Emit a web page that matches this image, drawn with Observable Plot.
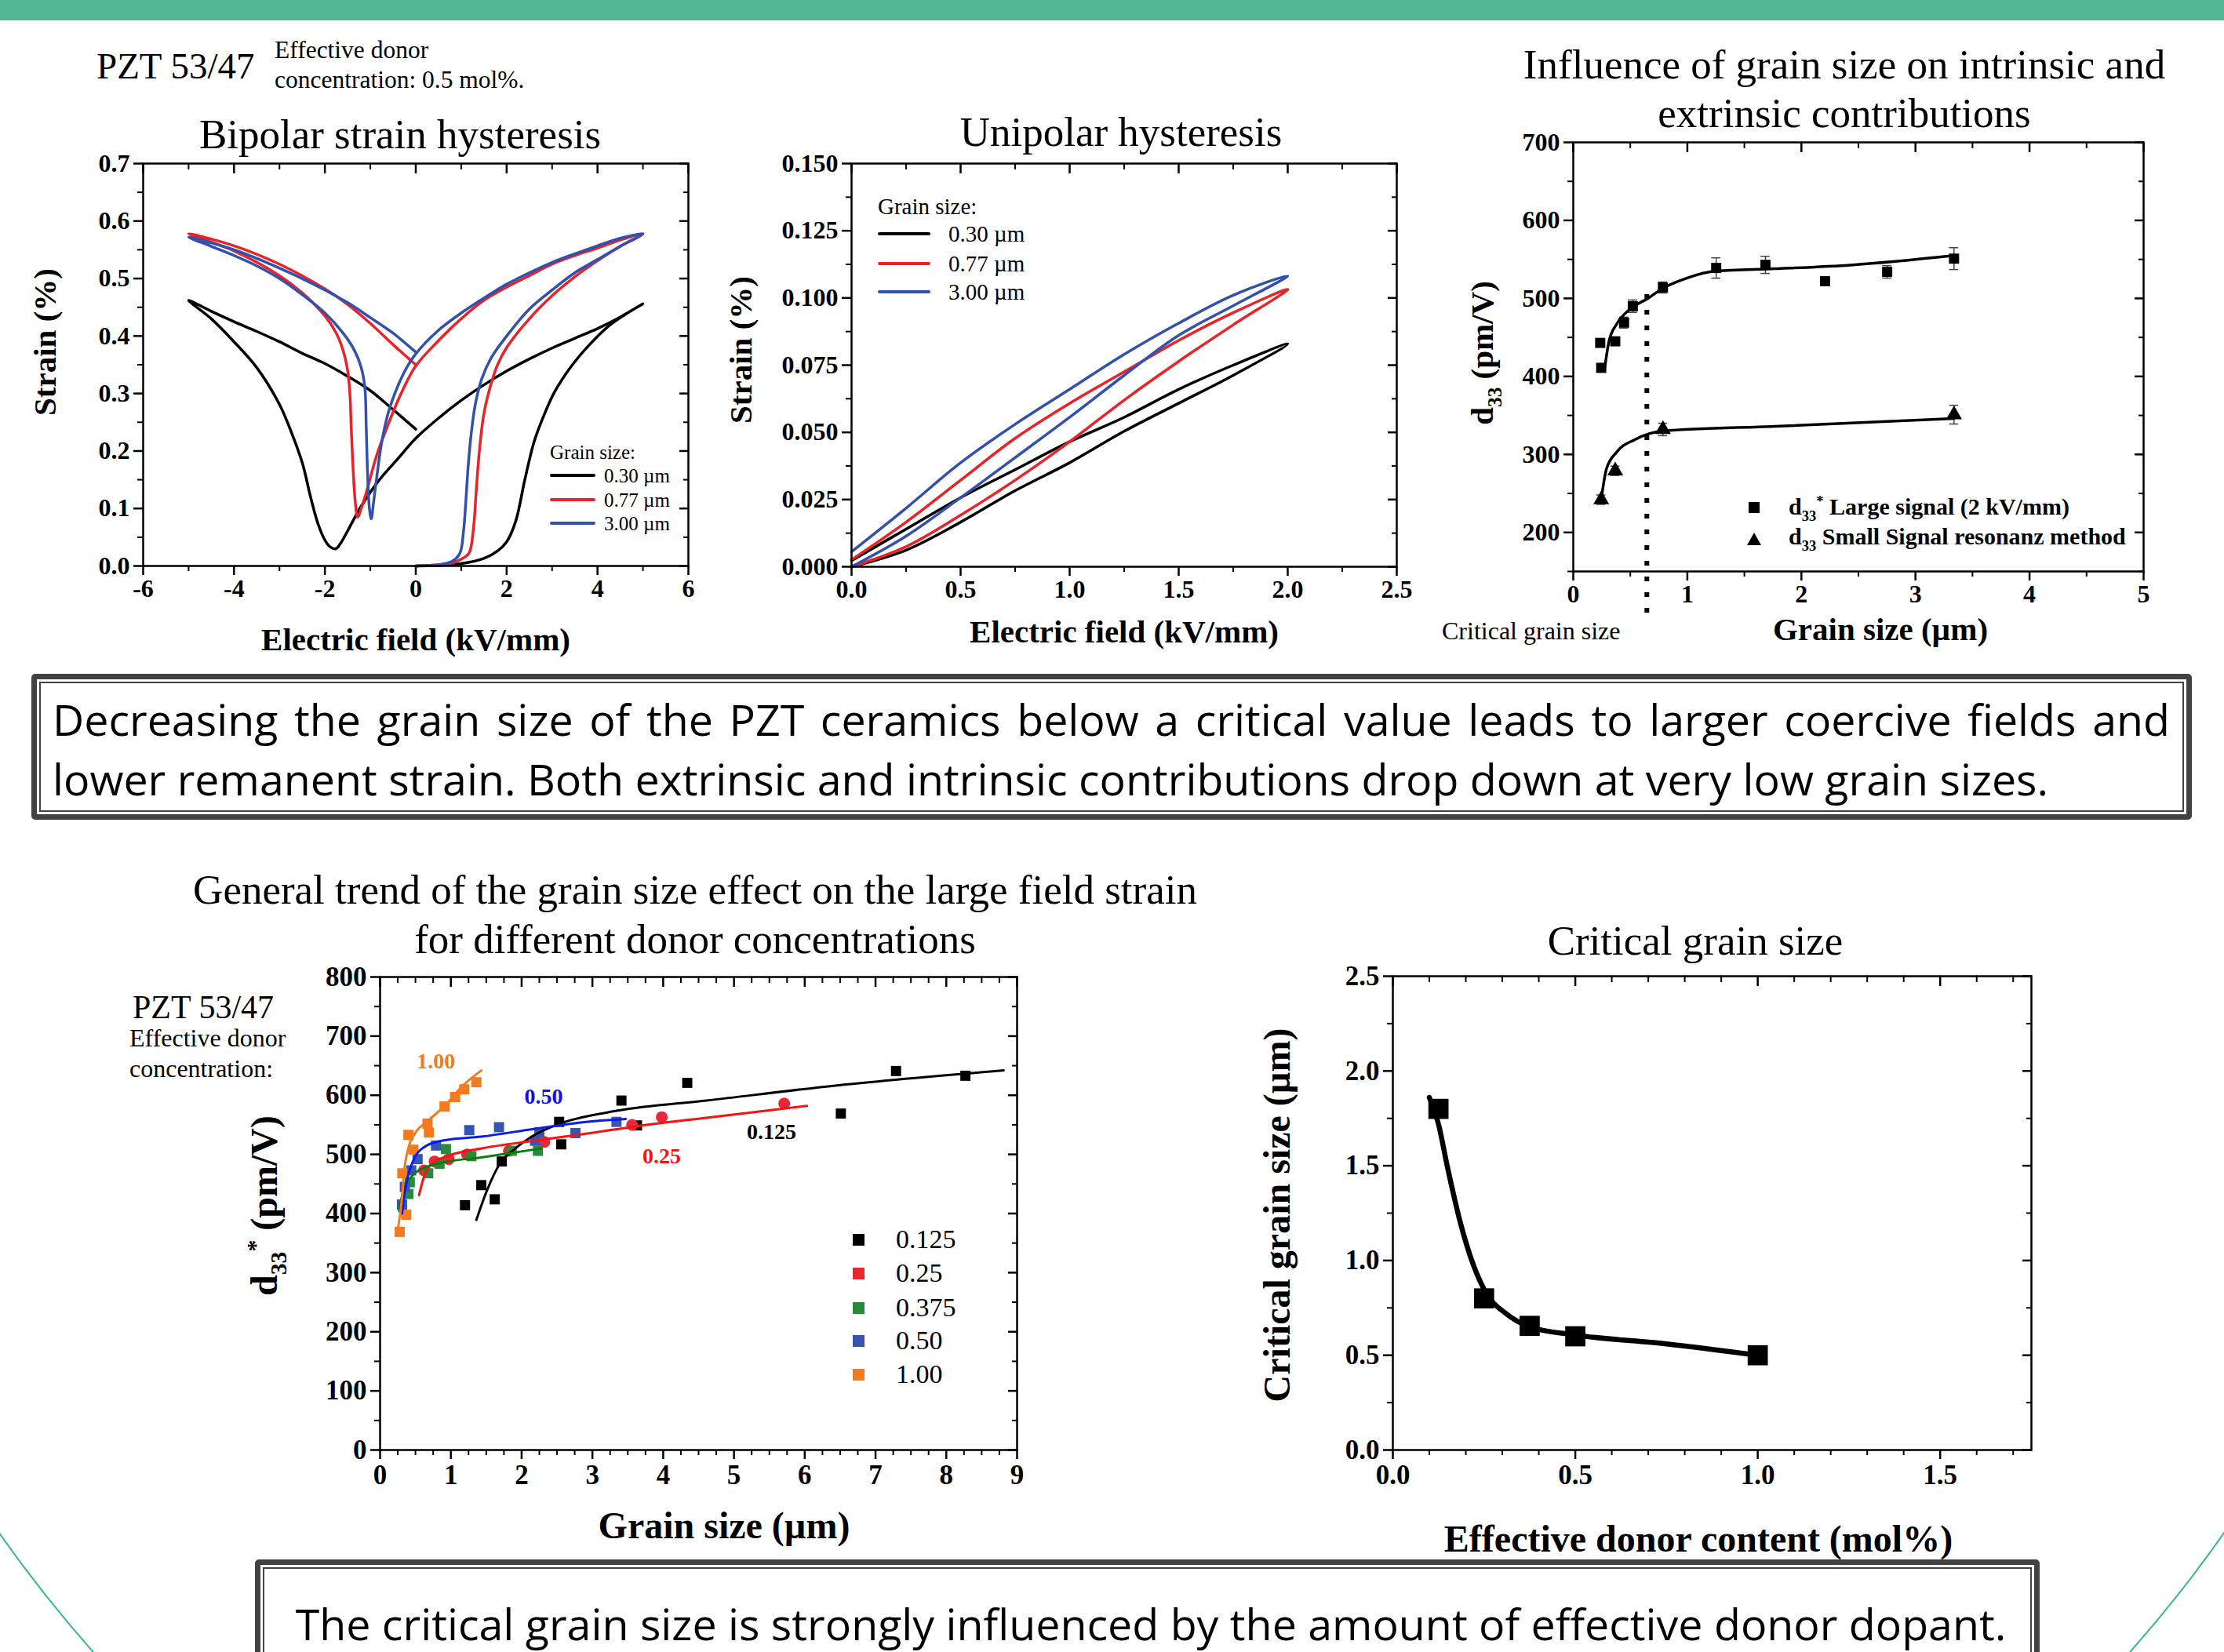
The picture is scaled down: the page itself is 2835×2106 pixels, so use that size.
<!DOCTYPE html>
<html><head><meta charset="utf-8">
<script src="https://cdn.jsdelivr.net/npm/d3@7"></script>
<script src="https://cdn.jsdelivr.net/npm/@observablehq/plot@0.6"></script>
<style>
html,body{margin:0;padding:0;background:#fff;}
#page{position:relative;width:2835px;height:2106px;overflow:hidden;background:#fff;font-family:"Liberation Serif",serif;color:#000;}
.t{position:absolute;white-space:nowrap;line-height:1;}
.sub{font-size:0.62em;position:relative;top:0.42em;}
.sup{font-size:0.62em;position:relative;top:-0.6em;}
.box{position:absolute;box-sizing:border-box;border:7px solid #424242;border-radius:5px;background:#fff;}
.box .in{position:absolute;left:3px;top:3px;right:3px;bottom:3px;border:2.5px solid #424242;}
.bt{position:absolute;white-space:nowrap;line-height:1;font-family:"Open Sans",sans-serif;font-size:55.5px;color:#000;}
</style></head><body><div id="page"></div>
<script>
// ---------------- DATA ----------------
// Bipolar strain hysteresis (E in kV/mm, strain in %)
const bipE030 = [0,0.5,1.0,1.5,1.8,2.0,2.2,2.4,2.6,2.8,3.05,3.4,3.8,4.24,4.6,5.0, 4.5,4.0,3.5,3.0,2.5,2.0,1.5,1.0,0.5,0,-0.4,-0.8,-1.2,-1.5,-1.65,-1.76,-1.88,-2.0,-2.15,-2.3,-2.5,-2.75,-3.0,-3.5,-4.0,-4.5,-5.0, -4.5,-4.0,-3.5,-3.0,-2.5,-2.0,-1.5,-1.0,-0.5,0];
const bipS030 = [0,0.001,0.004,0.013,0.026,0.042,0.078,0.15,0.215,0.258,0.302,0.345,0.383,0.417,0.437,0.456, 0.433,0.413,0.396,0.379,0.36,0.339,0.315,0.288,0.257,0.222,0.186,0.15,0.104,0.061,0.04,0.03,0.033,0.045,0.073,0.115,0.18,0.235,0.281,0.345,0.39,0.43,0.462, 0.443,0.425,0.408,0.39,0.37,0.352,0.33,0.305,0.272,0.238];
const bipE077 = [0,0.5,0.8,1.0,1.17,1.27,1.33,1.4,1.5,1.65,1.8,2.0,2.5,3.0,3.5,4.0,4.5,5.0, 4.5,4.0,3.5,3.0,2.5,2.0,1.5,1.0,0.5,0,-0.3,-0.6,-0.87,-1.07,-1.2,-1.28, -1.33,-1.38,-1.42,-1.45,-1.5,-1.6,-1.75,-2.0,-2.5,-3.0,-4.0,-5.0, -4.0,-3.0,-2.0,-1.5,-1.0,-0.5,0];
const bipS077 = [0,0.002,0.005,0.012,0.022,0.066,0.13,0.2,0.265,0.315,0.35,0.38,0.43,0.47,0.503,0.531,0.556,0.578, 0.567,0.553,0.54,0.525,0.505,0.485,0.462,0.43,0.392,0.348,0.304,0.248,0.19,0.133,0.1,0.085, 0.11,0.17,0.24,0.3,0.34,0.375,0.405,0.435,0.475,0.505,0.548,0.578, 0.557,0.525,0.482,0.455,0.422,0.385,0.35];
const bipE300 = [0,0.5,0.8,0.97,1.05,1.1,1.15,1.22,1.31,1.45,1.66,2.0,2.5,3.0,3.5,4.0,4.5,5.0, 4.5,4.0,3.5,3.0,2.5,2.0,1.5,1.0,0.5,0,-0.2,-0.4,-0.6,-0.75,-0.85,-0.93,-0.98, -1.02,-1.06,-1.09,-1.12,-1.2,-1.35,-1.6,-2.0,-2.5,-3.0,-3.5,-4.0,-4.5,-5.0, -4.5,-4.0,-3.5,-3.0,-2.5,-2.0,-1.5,-1.0,-0.5,0];
const bipS300 = [0,0.002,0.008,0.022,0.06,0.11,0.17,0.23,0.281,0.325,0.362,0.4,0.447,0.48,0.51,0.533,0.556,0.578, 0.57,0.557,0.543,0.528,0.51,0.49,0.466,0.44,0.41,0.369,0.345,0.312,0.268,0.215,0.16,0.11,0.082, 0.1,0.16,0.24,0.31,0.345,0.375,0.405,0.44,0.472,0.5,0.522,0.54,0.556,0.572, 0.562,0.55,0.535,0.518,0.5,0.48,0.458,0.432,0.405,0.372];

// Unipolar hysteresis
const uniE = [0,0.25,0.5,0.75,1.0,1.25,1.5,1.75,2.0,1.75,1.5,1.25,1.0,0.75,0.5,0.25,0];
const uniS030 = [0,0.0062,0.0166,0.0283,0.0387,0.0504,0.0608,0.0712,0.0829,0.075,0.066,0.0556,0.0465,0.0361,0.0257,0.014,0.0023];
const uniS077 = [0,0.0075,0.0192,0.0322,0.0465,0.062,0.0764,0.09,0.1032,0.0945,0.0842,0.0725,0.0608,0.0478,0.0322,0.0166,0.0026];
const uniS300 = [0,0.0114,0.0257,0.0406,0.0556,0.0712,0.0861,0.0971,0.1082,0.101,0.0906,0.079,0.066,0.053,0.0387,0.0218,0.0056];

// Influence of grain size on intrinsic / extrinsic contributions
const p3SqX = [0.236,0.245,0.368,0.445,0.522,0.786,1.253,1.685,2.207,2.752,3.338];
const p3SqY = [443,411,445,469,490,514,539,543,522,534,551];
const p3SqErr = [0,4,5,7,8,7,13,11,0,8,14];
const p3TriX = [0.245,0.368,0.786,3.338];
const p3TriY = [242,279,332,351];
const p3TriErr = [6,6,8,12];
const p3FitLX = [0.277,0.313,0.38,0.495,0.654,0.786,0.995,1.253,1.767,2.45,3.338];
const p3FitLY = [412,445,467,486,500,513,526,535,538,543,555];
const p3FitSX = [0.245,0.29,0.38,0.54,0.786,1.767,3.338];
const p3FitSY = [242,281,303,319,330,336,346];
const criticalSize = 0.645, criticalTop = 505, criticalBottom = 86;

// General trend for different donor concentrations
const g125X = [1.20,1.43,1.62,1.72,2.53,2.56,3.41,3.63,4.34,6.51,7.29,8.27];
const g125Y = [414,448,424,488,555,517,591,549,621,569,641,633];
const g125FX = [1.36,1.51,1.69,1.91,2.17,2.54,3.36,4.61,6.48,8.81];
const g125FY = [389,439,484,510,532,552,574,591,617,642];
const g250X = [0.62,0.77,0.97,1.23,1.82,2.32,3.56,3.98,5.71];
const g250Y = [473,488,492,500,506,521,550,563,586];
const g250FX = [0.55,0.62,0.73,0.95,1.43,2.17,2.91,3.65,4.61,6.03];
const g250FY = [431,462,484,497,510,523,535,548,562,582];
const g375X = [0.31,0.40,0.42,0.68,0.84,0.93,1.29,1.86,2.23];
const g375Y = [415,433,453,468,484,509,497,506,506];
const g375FX = [0.27,0.32,0.44,0.62,0.88,1.43,2.28];
const g375FY = [404,435,462,477,486,495,510];
const g500X = [0.31,0.35,0.44,0.53,0.79,1.26,1.68,2.19,2.25,2.76,3.34];
const g500Y = [415,445,473,492,515,541,546,523,537,536,555];
const g500FX = [0.31,0.36,0.47,0.66,0.92,1.43,2.17,2.91,3.47];
const g500FY = [400,444,490,515,524,530,543,555,560];
const g100X = [0.277,0.37,0.314,0.40,0.47,0.67,0.69,0.91,1.06,1.19,1.36];
const g100Y = [369,398,468,533,508,552,537,581,597,610,622];
const g100FX = [0.25,0.31,0.34,0.40,0.49,0.66,0.92,1.175,1.43];
const g100FY = [373,426,471,511,535,555,583,617,642];
const gLabelText = ["1.00","0.50","0.25","0.125"];
const gLabelX = [0.79,2.31,3.98,5.53];
const gLabelY = [657,598,497,538];
const gLabelColor = ["#f47a20","#1010ee","#ff1010","#000000"];
const gLegend = ["0.125","0.25","0.375","0.50","1.00"];
const gLegendColor = ["#000000","#e8262e","#2a8a3c","#3556b0","#f47a20"];

// Critical grain size vs donor content
const donor = [0.125,0.25,0.375,0.5,1.0];
const critGrain = [1.80,0.80,0.655,0.60,0.50];
const critFitX = [0.1,0.125,0.15,0.185,0.22,0.255,0.31,0.375,0.5,0.75,1.0];
const critFitY = [1.86,1.72,1.49,1.20,0.98,0.83,0.72,0.65,0.607,0.56,0.50];

// ---------------- HELPERS ----------------
const page = document.getElementById("page");
const zipXY = (xs, ys) => xs.map((x, i) => ({x, y: ys[i]}));
const rng = (a, b, s) => d3.range(Math.round((b - a) / s) + 1).map(i => +(a + i * s).toFixed(6));
const blank = () => "";

function div(cls, css, html) {
  const d = document.createElement("div");
  if (cls) d.className = cls;
  Object.assign(d.style, css);
  if (html != null) d.innerHTML = html;
  page.appendChild(d);
  return d;
}
function txt(html, x, y, size, opts = {}) {
  const d = div("t", {left: x + "px", top: y + "px", fontSize: size + "px"}, html);
  if (opts.bold) d.style.fontWeight = "bold";
  if (opts.color) d.style.color = opts.color;
  if (opts.rot) d.style.transform = "translate(-50%,-50%) rotate(-90deg)";
  else if (opts.center) d.style.transform = "translate(-50%,-50%)";
  else d.style.transform = "translate(0,-50%)";
  return d;
}
function put(svg, left, top) {
  const w = div(null, {position: "absolute", left: left + "px", top: top + "px"});
  w.appendChild(svg);
}
function frameAxes(o) {
  const f = o.font ?? 32, pad = o.pad ?? 5;
  return [
    Plot.axisX(o.xMajor, {anchor: "bottom", tickSize: 12, tickPadding: pad, strokeWidth: 2.5, tickFormat: o.xFmt, fontSize: f, fontWeight: "bold", label: null}),
    Plot.axisX(o.xMinor, {anchor: "bottom", tickSize: 7, strokeWidth: 2, tickFormat: blank, label: null}),
    Plot.axisX(o.xMajor, {anchor: "top", tickSize: 12, dy: 12, strokeWidth: 2.5, tickFormat: blank, label: null}),
    Plot.axisX(o.xMinor, {anchor: "top", tickSize: 7, dy: 7, strokeWidth: 2, tickFormat: blank, label: null}),
    Plot.axisY(o.yMajor, {anchor: "left", tickSize: 12, tickPadding: 5, strokeWidth: 2.5, tickFormat: o.yFmt, fontSize: f, fontWeight: "bold", label: null}),
    Plot.axisY(o.yMinor, {anchor: "left", tickSize: 7, strokeWidth: 2, tickFormat: blank, label: null}),
    Plot.axisY(o.yMajor, {anchor: "right", tickSize: 12, dx: -12, strokeWidth: 2.5, tickFormat: blank, label: null}),
    Plot.axisY(o.yMinor, {anchor: "right", tickSize: 7, dx: -7, strokeWidth: 2, tickFormat: blank, label: null}),
    Plot.frame({stroke: "#000", strokeWidth: 2.5})
  ];
}
const plotStyle = {fontFamily: "Liberation Serif", background: "transparent", overflow: "visible", color: "#000"};
const TITLE = 53;

// ---------------- DECORATION ----------------
div(null, {position: "absolute", left: "-317px", top: "-776px", width: "3468px", height: "3468px", borderRadius: "50%", border: "2.5px solid #3db48f", boxSizing: "border-box"});
div(null, {position: "absolute", left: "0px", top: "0px", width: "2835px", height: "26px", background: "#52b794"});

// ---------------- PLOT 1: Bipolar ----------------
{
  const loops = [[bipE030, bipS030, "#000000"], [bipE077, bipS077, "#ec2229"], [bipE300, bipS300, "#3151ad"]];
  const svg = Plot.plot({
    width: 900, height: 640, marginLeft: 182, marginRight: 23, marginTop: 28, marginBottom: 99,
    x: {domain: [-6, 6]}, y: {domain: [0, 0.7]}, style: plotStyle,
    marks: [
      ...loops.map(([e, s, c]) => Plot.line(zipXY(e, s), {x: "x", y: "y", stroke: c, strokeWidth: 3.5, curve: "catmull-rom"})),
      ...frameAxes({xMajor: rng(-6, 6, 2), xMinor: rng(-5, 5, 2), yMajor: rng(0, 0.7, 0.1), yMinor: rng(0.05, 0.65, 0.1), xFmt: d => String(d), yFmt: d3.format(".1f")})
    ]
  });
  put(svg, 0, 180);
  txt("PZT 53/47", 123, 84, 47);
  txt("Effective donor", 350, 64, 31.5);
  txt("concentration: 0.5 mol%.", 350, 102, 31.5);
  txt("Bipolar strain hysteresis", 510, 171, TITLE, {center: true});
  txt("Strain (%)", 57, 436, 41, {bold: true, rot: true});
  txt("Electric field (kV/mm)", 530, 815, 41, {bold: true, center: true});
  txt("Grain size:", 701, 576, 25);
  const lg = [["0.30 µm", "#000000", 606], ["0.77 µm", "#ec2229", 637], ["3.00 µm", "#3151ad", 667]];
  lg.forEach(([t, c, y]) => {
    div(null, {position: "absolute", left: "701px", top: (y - 2) + "px", width: "58px", height: "4px", background: c, borderRadius: "2px"});
    txt(t, 770, y, 25);
  });
}

// ---------------- PLOT 2: Unipolar ----------------
{
  const loops = [[uniS030, "#000000"], [uniS077, "#ec2229"], [uniS300, "#3151ad"]];
  const svg = Plot.plot({
    width: 950, height: 640, marginLeft: 185, marginRight: 70, marginTop: 28, marginBottom: 98,
    x: {domain: [0, 2.5]}, y: {domain: [0, 0.15]}, style: plotStyle,
    marks: [
      ...loops.map(([s, c]) => Plot.line(zipXY(uniE, s), {x: "x", y: "y", stroke: c, strokeWidth: 3.5, curve: "catmull-rom"})),
      ...frameAxes({xMajor: rng(0, 2.5, 0.5), xMinor: rng(0.25, 2.25, 0.5), yMajor: rng(0, 0.15, 0.025), yMinor: rng(0.0125, 0.1375, 0.025), xFmt: d3.format(".1f"), yFmt: d3.format(".3f")})
    ]
  });
  put(svg, 900, 180);
  txt("Unipolar hysteresis", 1429, 168, TITLE, {center: true});
  txt("Strain (%)", 944, 446, 41, {bold: true, rot: true});
  txt("Electric field (kV/mm)", 1433, 805, 41, {bold: true, center: true});
  txt("Grain size:", 1119, 263, 29);
  const lg = [["0.30 µm", "#000000", 298], ["0.77 µm", "#ec2229", 336], ["3.00 µm", "#3151ad", 372]];
  lg.forEach(([t, c, y]) => {
    div(null, {position: "absolute", left: "1119px", top: (y - 2) + "px", width: "67px", height: "4px", background: c, borderRadius: "2px"});
    txt(t, 1209, y, 29);
  });
}

// ---------------- PLOT 3: intrinsic / extrinsic ----------------
{
  const sq = p3SqX.map((x, i) => ({x, y: p3SqY[i], e: p3SqErr[i]}));
  const tri = p3TriX.map((x, i) => ({x, y: p3TriY[i], e: p3TriErr[i]}));
  const err = [...sq, ...tri].filter(d => d.e > 0);
  const svg = Plot.plot({
    width: 1035, height: 680, marginLeft: 205, marginRight: 103, marginTop: 31, marginBottom: 102,
    x: {domain: [0, 5]}, y: {domain: [150, 700]}, style: plotStyle,
    marks: [
      Plot.ruleX([criticalSize], {x: d => d, y1: criticalTop, y2: criticalBottom, stroke: "#000", strokeWidth: 6, strokeDasharray: "6,14"}),
      Plot.ruleX(err, {x: "x", y1: d => d.y - d.e, y2: d => d.y + d.e, stroke: "#444", strokeWidth: 1.5}),
      Plot.ruleY(err, {y: d => d.y + d.e, x1: d => d.x - 0.04, x2: d => d.x + 0.04, stroke: "#444", strokeWidth: 1.5}),
      Plot.ruleY(err, {y: d => d.y - d.e, x1: d => d.x - 0.04, x2: d => d.x + 0.04, stroke: "#444", strokeWidth: 1.5}),
      Plot.line(zipXY(p3FitLX, p3FitLY), {x: "x", y: "y", stroke: "#000", strokeWidth: 3.5, curve: "monotone-x"}),
      Plot.line(zipXY(p3FitSX, p3FitSY), {x: "x", y: "y", stroke: "#000", strokeWidth: 3.5, curve: "monotone-x"}),
      Plot.dot(sq, {x: "x", y: "y", symbol: "square", r: 7.3, fill: "#000", stroke: "none"}),
      Plot.dot(tri, {x: "x", y: "y", symbol: "triangle", r: 7.5, fill: "#000", stroke: "none"}),
      ...frameAxes({xMajor: rng(0, 5, 1), xMinor: rng(0.5, 4.5, 1), yMajor: rng(200, 700, 100), yMinor: rng(150, 650, 100), xFmt: d => String(d), yFmt: d => String(d)})
    ]
  });
  put(svg, 1800, 150);
  txt("Influence of grain size on intrinsic and", 2351, 82, TITLE, {center: true});
  txt("extrinsic contributions", 2351, 144, TITLE, {center: true});
  txt('d<span class="sub">33</span> (pm/V)', 1889, 450, 41, {bold: true, rot: true});
  txt("Grain size (µm)", 2397, 802, 41, {bold: true, center: true});
  txt("Critical grain size", 1838, 804, 32);
  div(null, {position: "absolute", left: "2229px", top: "640px", width: "14px", height: "14px", background: "#000"});
  div(null, {position: "absolute", left: "2227px", top: "679px", width: "0", height: "0", borderLeft: "9px solid transparent", borderRight: "9px solid transparent", borderBottom: "16px solid #000"});
  txt('d<span class="sub">33</span><span class="sup">*</span> Large signal (2 kV/mm)', 2280, 646, 30, {bold: true});
  txt('d<span class="sub">33</span> Small Signal resonanz method', 2280, 684, 30, {bold: true});
}

// ---------------- PLOT 4: General trend ----------------
{
  const sets = [
    [g125X, g125Y, g125FX, g125FY, "#000000", "#000000", "square"],
    [g250X, g250Y, g250FX, g250FY, "#e8283a", "#ff1010", "circle"],
    [g375X, g375Y, g375FX, g375FY, "#2a8a3c", "#0c7c10", "square"],
    [g500X, g500Y, g500FX, g500FY, "#3556b0", "#0a1af0", "square"],
    [g100X, g100Y, g100FX, g100FY, "#f47a20", "#f47a20", "square"]
  ];
  const labels = gLabelText.map((t, i) => ({t, x: gLabelX[i], y: gLabelY[i], c: gLabelColor[i]}));
  const svg = Plot.plot({
    width: 1200, height: 720, marginLeft: 334, marginRight: 54, marginTop: 45, marginBottom: 72,
    x: {domain: [0, 9]}, y: {domain: [0, 800]}, style: plotStyle,
    marks: [
      ...sets.map(([xs, ys, , , mc, , sym]) => Plot.dot(zipXY(xs, ys), {x: "x", y: "y", symbol: sym, r: sym === "circle" ? 7.5 : 7.3, fill: mc, stroke: "none"})),
      ...sets.map(([, , fx, fy, , lc]) => Plot.line(zipXY(fx, fy), {x: "x", y: "y", stroke: lc, strokeWidth: 3, curve: "monotone-x"})),
      Plot.text(labels, {x: "x", y: "y", text: "t", fill: "c", fontSize: 28, fontWeight: "bold"}),
      ...frameAxes({font: 35, pad: 7, xMajor: rng(0, 9, 1), xMinor: rng(0.25, 8.75, 0.25).filter(v => v % 1 !== 0), yMajor: rng(0, 800, 100), yMinor: rng(50, 750, 100), xFmt: d => String(d), yFmt: d => String(d)})
    ]
  });
  put(svg, 150, 1200);
  txt("General trend of the grain size effect on the large field strain", 886, 1134, TITLE, {center: true});
  txt("for different donor concentrations", 886, 1197, TITLE, {center: true});
  txt("PZT 53/47", 169, 1284, 42);
  txt("Effective donor", 165, 1323, 32);
  txt("concentration:", 165, 1362, 32);
  txt('d<span class="sub">33</span><span class="sup">*</span> (pm/V)', 337, 1537, 48, {bold: true, rot: true});
  txt("Grain size (µm)", 923, 1945, 48, {bold: true, center: true});
  const ly = [1580, 1623, 1667, 1709, 1752];
  gLegend.forEach((t, i) => {
    div(null, {position: "absolute", left: "1087px", top: (ly[i] - 7) + "px", width: "15px", height: "15px", background: gLegendColor[i]});
    txt(t, 1142, ly[i], 34);
  });
}

// ---------------- PLOT 5: Critical grain size ----------------
{
  const svg = Plot.plot({
    width: 1100, height: 720, marginLeft: 215, marginRight: 71, marginTop: 44, marginBottom: 72,
    x: {domain: [0, 1.75]}, y: {domain: [0, 2.5]}, style: plotStyle,
    marks: [
      Plot.line(zipXY(critFitX, critFitY), {x: "x", y: "y", stroke: "#000", strokeWidth: 6.5, curve: "monotone-x"}),
      Plot.dot(zipXY(donor, critGrain), {x: "x", y: "y", symbol: "square", r: 14.5, fill: "#000", stroke: "none"}),
      ...frameAxes({font: 35, pad: 7, xMajor: rng(0, 1.5, 0.5), xMinor: rng(0.1, 1.7, 0.1).filter(v => Math.abs(v * 2 - Math.round(v * 2)) > 1e-6), yMajor: rng(0, 2.5, 0.5), yMinor: rng(0.25, 2.25, 0.5), xFmt: d3.format(".1f"), yFmt: d3.format(".1f")})
    ]
  });
  put(svg, 1560, 1200);
  txt("Critical grain size", 2161, 1199, TITLE, {center: true});
  txt("Critical grain size (µm)", 1628, 1549, 48, {bold: true, rot: true});
  txt("Effective donor content (mol%)", 2165, 1962, 48, {bold: true, center: true});
}

// ---------------- TEXT BOXES ----------------
{
  const b1 = div("box", {left: "40px", top: "859px", width: "2754px", height: "186px"});
  b1.appendChild(Object.assign(document.createElement("div"), {className: "in"}));
  div("bt", {left: "67px", top: "917px", width: "2699px", whiteSpace: "normal", textAlign: "justify", textAlignLast: "justify", transform: "translate(0,-50%)"},
    "Decreasing the grain size of the PZT ceramics below a critical value leads to larger coercive fields and");
  div("bt", {left: "67px", top: "993px", transform: "translate(0,-50%)"},
    "lower remanent strain. Both extrinsic and intrinsic contributions drop down at very low grain sizes.");
  const b2 = div("box", {left: "325px", top: "1988px", width: "2275px", height: "170px"});
  b2.appendChild(Object.assign(document.createElement("div"), {className: "in"}));
  div("bt", {left: "1467px", top: "2070px", transform: "translate(-50%,-50%)"},
    "The critical grain size is strongly influenced by the amount of effective donor dopant.");
}
</script></body></html>
